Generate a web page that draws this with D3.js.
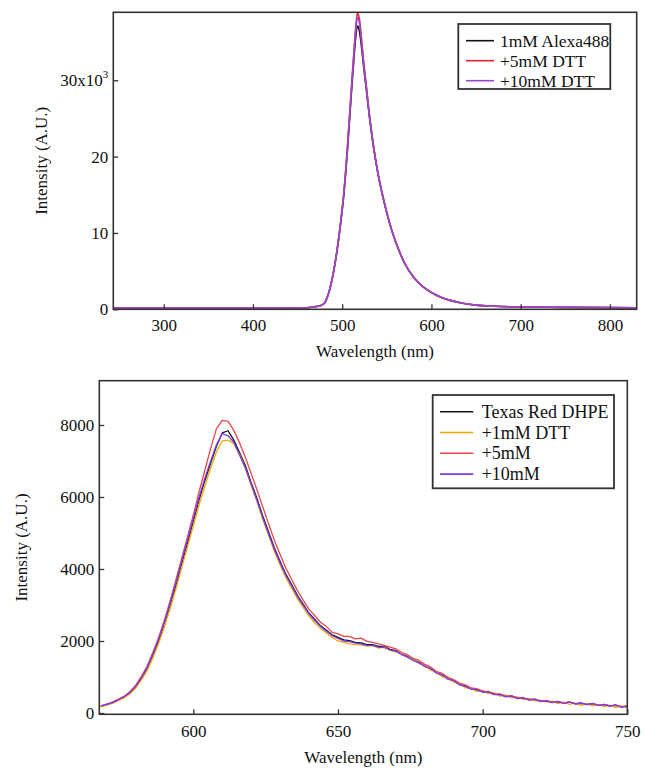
<!DOCTYPE html>
<html>
<head>
<meta charset="utf-8">
<script src="https://cdn.jsdelivr.net/npm/d3@7"></script>
<style>
  html, body { margin: 0; padding: 0; background: #fff; }
  svg text { font-family: "Liberation Serif", "Times New Roman", "DejaVu Serif", serif !important; }
</style>
</head>
<body>
<svg id="chart" width="645" height="771"></svg>
<script>
// ---------- Top panel data (Alexa488) ----------
const topWavelengths = [243, 300, 400, 460, 470, 475, 480, 483, 486, 490, 494, 498, 502, 506, 510, 513, 515, 517, 519, 521, 524, 527, 531, 535, 540, 545, 550, 555, 560, 570, 580, 590, 600, 610, 620, 635, 650, 670, 700, 750, 830];
const topAlexa = [150, 150, 150, 200, 350, 450, 800, 1500, 2600, 4700, 7500, 11000, 15200, 21000, 27800, 32600, 35400, 37100, 36600, 35000, 31800, 28800, 24700, 21300, 17800, 15000, 12600, 10500, 8800, 6000, 4200, 3000, 2200, 1600, 1200, 800, 550, 400, 300, 250, 200];
const topDTT5 = [150, 150, 150, 200, 350, 450, 800, 1500, 2600, 4700, 7600, 11200, 15500, 21500, 28500, 33600, 36700, 38800, 38200, 36200, 32500, 29300, 25000, 21500, 17900, 15100, 12700, 10600, 8850, 6050, 4220, 3010, 2210, 1600, 1200, 800, 550, 400, 300, 250, 200];
const topDTT10 = [150, 150, 150, 200, 350, 450, 800, 1500, 2600, 4700, 7550, 11100, 15400, 21300, 28200, 33200, 36200, 38200, 37700, 35800, 32200, 29100, 24900, 21400, 17850, 15050, 12650, 10550, 8820, 6020, 4210, 3000, 2200, 1600, 1200, 800, 550, 400, 300, 250, 200];
const topNames = ["1mM Alexa488", "+5mM DTT", "+10mM DTT"];
const topXTicks = [300, 400, 500, 600, 700, 800];
const topYTicks = [0, 10000, 20000, 30000];

// ---------- Bottom panel data (Texas Red DHPE) ----------
const botWavelengths = [568,570,572,574,576,578,580,582,584,586,588,590,592,594,596,598,600,602,604,606,608,610,612,614,616,618,620,622,624,626,628,630,632,634,636,638,640,642,644,646,648,650,652,654,656,658,660,662,664,666,668,670,672,674,676,678,680,682,684,686,688,690,692,694,696,698,700,702,704,706,708,710,712,714,716,718,720,722,724,726,728,730,732,734,736,738,740,742,744,746,748,750];
const botTexasRed = [185,240,280,370,430,570,720,970,1240,1610,2010,2490,3010,3550,4160,4730,5330,5930,6460,6940,7410,7780,7840,7580,7230,6870,6390,5960,5470,5030,4590,4210,3850,3570,3260,3020,2770,2600,2420,2300,2170,2100,2030,2010,1960,1950,1900,1900,1850,1850,1770,1730,1630,1570,1470,1410,1300,1230,1120,1050,950,890,790,740,670,640,590,570,520,510,460,460,410,410,370,370,330,330,300,310,280,300,260,270,240,260,220,230,200,210,170,180];
const botDTT1 = [170,220,270,340,420,530,680,910,1170,1520,1930,2390,2900,3450,4040,4620,5200,5780,6300,6800,7250,7560,7580,7480,7180,6800,6320,5880,5380,4940,4490,4110,3760,3470,3170,2930,2690,2500,2350,2220,2100,2000,1960,1920,1900,1890,1860,1880,1800,1830,1740,1700,1640,1540,1490,1370,1330,1190,1140,1010,970,860,810,700,690,600,620,540,560,470,500,420,450,380,400,340,360,300,330,260,300,240,280,210,260,200,240,180,220,150,200,140];
const botDTT5 = [200,250,300,380,460,590,760,1010,1300,1680,2100,2580,3120,3700,4300,4900,5500,6150,6750,7350,7900,8130,8100,7850,7500,7100,6650,6200,5720,5260,4800,4400,4020,3710,3400,3130,2880,2700,2520,2400,2240,2200,2130,2130,2060,2080,1990,1960,1920,1880,1830,1780,1680,1620,1520,1460,1350,1280,1160,1100,990,930,830,780,700,680,610,600,540,530,470,480,420,430,380,390,330,350,300,320,270,300,250,280,230,260,210,240,190,220,170,200];
const botDTT10 = [200,230,290,360,450,560,740,960,1260,1630,2050,2520,3060,3620,4220,4810,5400,6000,6530,7000,7450,7760,7700,7520,7160,6800,6350,5900,5420,4980,4550,4170,3820,3530,3230,2990,2750,2570,2400,2270,2150,2070,2000,1980,1940,1920,1880,1870,1830,1820,1750,1720,1620,1560,1460,1400,1290,1240,1110,1060,940,900,780,750,660,650,580,580,510,520,450,470,400,420,360,380,320,340,290,320,270,310,250,280,230,270,210,240,190,230,160,200];
const botNames = ["Texas Red DHPE", "+1mM DTT", "+5mM", "+10mM"];
const botXTicks = [600, 650, 700, 750];
const botYTicks = [0, 2000, 4000, 6000, 8000];

const svg = d3.select("#chart");
const FRAME = "#333";

function drawPanel(cfg) {
  const g = svg.append("g");
  const x = d3.scaleLinear().domain(cfg.xDomain).range([cfg.left, cfg.right]);
  const y = d3.scaleLinear().domain(cfg.yDomain).range([cfg.bottom, cfg.top]);

  const clipId = "clip" + cfg.id;
  svg.append("clipPath").attr("id", clipId).append("rect")
    .attr("x", cfg.left).attr("y", cfg.top)
    .attr("width", cfg.right - cfg.left).attr("height", cfg.bottom - cfg.top);

  const line = d3.line().x((d, i) => x(cfg.xs[i])).y(d => y(d)).curve(cfg.curve);
  const lines = g.append("g").attr("clip-path", `url(#${clipId})`);
  cfg.series.forEach((s, k) => {
    lines.append("path").datum(s).attr("d", line)
      .attr("fill", "none").attr("stroke", cfg.colors[k])
      .attr("stroke-width", cfg.lineWidth).attr("stroke-linejoin", "round");
  });

  const xAxis = d3.axisBottom(x).tickValues(cfg.xTicks).tickSizeInner(-5).tickSizeOuter(0).tickPadding(cfg.xPad).tickFormat(d3.format("d"));
  const yAxis = d3.axisLeft(y).tickValues(cfg.yTicks).tickSizeInner(-5).tickSizeOuter(0).tickPadding(5).tickFormat(cfg.yFormat);
  const gx = g.append("g").attr("transform", `translate(0,${cfg.bottom})`).call(xAxis);
  const gy = g.append("g").attr("transform", `translate(${cfg.left},0)`).call(yAxis);
  [gx, gy].forEach(a => {
    a.attr("font-family", null).attr("font-size", null);
    a.select(".domain").remove();
    a.selectAll(".tick line").attr("stroke", FRAME).attr("stroke-width", 1.3);
    a.selectAll(".tick text").attr("font-size", cfg.tickFont).attr("fill", "#111");
  });
  if (cfg.superTick) {
    gy.selectAll(".tick text").filter(d => d === cfg.superTick).each(function () {
      const t = d3.select(this);
      t.text(null);
      t.append("tspan").text("30x10");
      t.append("tspan").text("3").attr("font-size", 11).attr("dy", "-0.75em");
    });
  }

  g.append("rect").attr("x", cfg.left).attr("y", cfg.top)
    .attr("width", cfg.right - cfg.left).attr("height", cfg.bottom - cfg.top)
    .attr("fill", "none").attr("stroke", FRAME).attr("stroke-width", 1.6);

  g.append("text").attr("x", (cfg.left + cfg.right) / 2).attr("y", cfg.xTitleY)
    .attr("text-anchor", "middle").attr("font-size", 17).attr("fill", "#111").text("Wavelength (nm)");
  g.append("text").attr("transform", `translate(${cfg.yTitleX},${(cfg.top + cfg.bottom) / 2}) rotate(-90)`)
    .attr("text-anchor", "middle").attr("font-size", 17).attr("fill", "#111").text("Intensity (A.U.)");

  const L = cfg.legend;
  g.append("rect").attr("x", L.x).attr("y", L.y).attr("width", L.w).attr("height", L.h)
    .attr("fill", "#fff").attr("stroke", FRAME).attr("stroke-width", 1.8);
  cfg.names.forEach((n, k) => {
    const ry = L.row0 + k * L.step;
    g.append("line").attr("x1", L.lx1).attr("x2", L.lx2).attr("y1", ry).attr("y2", ry)
      .attr("stroke", cfg.colors[k]).attr("stroke-width", 1.6);
    g.append("text").attr("x", L.tx).attr("y", ry + L.font * 0.34).attr("font-size", L.font)
      .attr("fill", "#111").text(n);
  });
}

drawPanel({
  id: "top",
  left: 113.3, right: 636.7, top: 12.3, bottom: 309.3,
  xDomain: [243.5, 830], yDomain: [0, 38900],
  xs: topWavelengths,
  series: [topAlexa, topDTT5, topDTT10],
  colors: ["#111111", "#e3262b", "#9a48d4"],
  curve: d3.curveMonotoneX,
  lineWidth: 1.6,
  xTicks: topXTicks, yTicks: topYTicks,
  yFormat: d => d === 0 ? "0" : String(d / 1000),
  superTick: 30000,
  xPad: 10, tickFont: 17,
  xTitleY: 357, yTitleX: 47,
  names: topNames,
  legend: { x: 458.3, y: 24, w: 152, h: 65, row0: 40.7, step: 20, lx1: 466, lx2: 494, tx: 500, font: 17.5 }
});

drawPanel({
  id: "bot",
  left: 99.3, right: 627.3, top: 380.7, bottom: 714.3,
  xDomain: [567.5, 750], yDomain: [-36, 9230],
  xs: botWavelengths,
  series: [botTexasRed, botDTT1, botDTT5, botDTT10],
  colors: ["#111111", "#f2a900", "#e8474a", "#7b3cf0"],
  curve: d3.curveLinear,
  lineWidth: 1.3,
  xTicks: botXTicks, yTicks: botYTicks,
  yFormat: d3.format("d"),
  superTick: null,
  xPad: 11, tickFont: 17,
  xTitleY: 763, yTitleX: 27,
  names: botNames,
  legend: { x: 432.7, y: 395, w: 181.3, h: 93.3, row0: 411.7, step: 20.8, lx1: 440, lx2: 473.3, tx: 481.7, font: 18 }
});
</script>
</body>
</html>
